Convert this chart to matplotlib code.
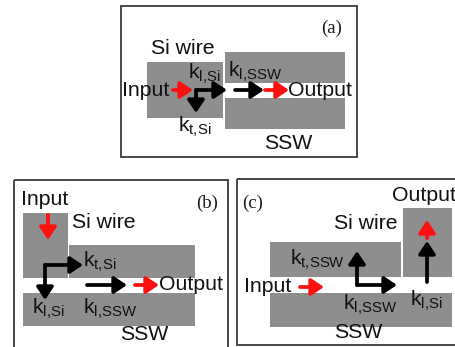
import matplotlib
matplotlib.use("Agg")
import matplotlib.pyplot as plt
from matplotlib.patches import Rectangle

plt.rcParams['font.family'] = ['Liberation Sans', 'DejaVu Sans']
plt.rcParams['mathtext.fontset'] = 'custom'
plt.rcParams['mathtext.rm'] = 'Liberation Sans'
plt.rcParams['mathtext.it'] = 'Liberation Sans'

panel_labels = ["(a)", "(b)", "(c)"]
word_labels = ["Input", "Output", "Si wire", "SSW"]
k_labels = {"l_si": r"k$_{\mathrm{l{,}Si}}$", "t_si": r"k$_{\mathrm{t{,}Si}}$",
            "l_ssw": r"k$_{\mathrm{l{,}SSW}}$", "t_ssw": r"k$_{\mathrm{t{,}SSW}}$"}

GRAY = '#8e8e8e'
RED = '#ff1010'
FS = 15.3

fig = plt.figure(figsize=(4.55, 3.47), dpi=100)
ax = fig.add_axes([0, 0, 1, 1])
ax.set_xlim(0, 455)
ax.set_ylim(347, 0)
ax.axis('off')

def box(x0, y0, x1, y1):
    ax.add_patch(Rectangle((x0, y0), x1 - x0, y1 - y0, facecolor=GRAY, edgecolor='none'))

def frame(x0, y0, x1, y1):
    ax.add_patch(Rectangle((x0, y0), x1 - x0, y1 - y0, facecolor='none', edgecolor='#3a3a3a', lw=1.3))

def arrow(x0, y0, x1, y1, color='k', lw=2.7, hw=0.5, hl=0.75):
    ax.annotate('', xy=(x1, y1), xytext=(x0, y0),
                arrowprops=dict(arrowstyle=f'-|>,head_width={hw},head_length={hl}',
                                lw=lw, color=color, shrinkA=0, shrinkB=0))

def word(x, y, s, ha='left'):
    ax.text(x, y, s, fontsize=FS, ha=ha, va='center', color='#111111')

def ktext(x, y, s):
    ax.text(x, y, s, fontsize=FS, ha='left', va='baseline', color='#111111')

def plabel(x, y, s):
    ax.text(x, y, s, fontsize=13.5, ha='center', va='center', family='Liberation Serif', color='#1a1a1a')

# ---- panel (a)
frame(121, 6, 357, 157)
box(147, 62, 223, 118)
box(225, 52, 345, 83)
box(225, 98, 345, 129)
plabel(332, 28, panel_labels[0])
word(151, 48, word_labels[2])
word(122, 90, word_labels[0])
arrow(173, 90, 193, 90, color=RED)
arrow(196, 90, 196, 113)
arrow(196, 90, 227, 90)
ktext(188, 79, k_labels["l_si"])
ktext(178, 132, k_labels["t_si"])
arrow(235, 90, 264, 90)
arrow(265, 90, 289, 90, color=RED)
word(288, 90, word_labels[1])
ktext(228, 77, k_labels["l_ssw"])
word(264, 143, word_labels[3])

# ---- panel (b)
frame(14, 180, 228, 352)
box(23, 213, 68, 278)
box(69, 245, 195, 278)
box(23, 293, 195, 326)
word(21, 199, word_labels[0])
plabel(207, 203, panel_labels[1])
word(72, 222, word_labels[2])
arrow(48, 215, 48, 240, color=RED)
arrow(45, 265, 83, 265)
arrow(45, 265, 45, 300)
ktext(83, 267, k_labels["t_si"])
ktext(32, 314, k_labels["l_si"])
arrow(87, 285, 127, 285)
arrow(135, 285, 159, 285, color=RED)
word(159, 285, word_labels[1])
ktext(83, 314, k_labels["l_ssw"])
word(120, 335, word_labels[3])

# ---- panel (c)
frame(237, 179, 462, 345)
box(270, 242, 401, 277)
box(270, 293, 452, 327)
box(403, 208, 452, 277)
word(392, 195, word_labels[1])
plabel(253, 203, panel_labels[2])
word(334, 223, word_labels[2])
arrow(427, 238, 427, 220, color=RED)
arrow(427, 282, 427, 241)
ktext(410, 306, k_labels["l_si"])
arrow(357, 285, 357, 251)
arrow(357, 285, 397, 285)
ktext(290, 265, k_labels["t_ssw"])
word(244, 287, word_labels[0])
arrow(300, 287, 324, 287, color=RED)
ktext(343, 310, k_labels["l_ssw"])
word(334, 333, word_labels[3])

fig.savefig('out.png', dpi=100)
